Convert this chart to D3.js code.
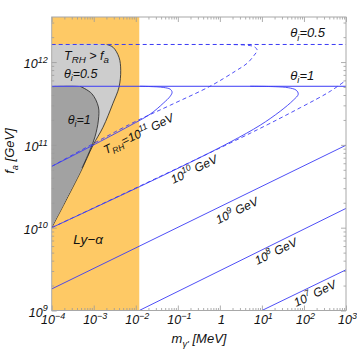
<!DOCTYPE html>
<html>
<head>
<meta charset="utf-8">
<script src="https://cdn.jsdelivr.net/npm/d3@7"></script>
<style>
  body { margin: 0; background: #fff; }
  text { font-family: "Liberation Sans", Arial, sans-serif; font-style: italic; fill: #111; }
</style>
</head>
<body>
<div id="chart"></div>
<script>
// ---- data (m in MeV, f_a in GeV) ----
const xMajor = [1e-4, 1e-3, 1e-2, 1e-1, 1, 10, 100, 1000];
const xMajorLabels = [["10", "−4"], ["10", "−3"], ["10", "−2"], ["10", "−1"], ["1", ""], ["10", "1"], ["10", "2"], ["10", "3"]];
const yMajor = [1e9, 1e10, 1e11, 1e12];
const yMajorLabels = [["10", "9"], ["10", "10"], ["10", "11"], ["10", "12"]];

const lyAlphaMax = 0.0121;
const thetaHalfLevel = 1.63e12;
const thetaOneLevel = 5.1e11;

// excluded T_RH > f_a regions
const grayHalf = [[1e-4, 1.63e12], [2.03e-3, 1.63e12], [2.87e-3, 1.51e12], [3.99e-3, 1.14e12], [4.38e-3, 7.96e11],
  [3.99e-3, 4.97e11], [2.87e-3, 3.18e11], [1.66e-3, 1.63e11], [9.6e-4, 9.9e10], [4.84e-4, 4.69e10], [1e-4, 1e10]];
const grayOne = [[1e-4, 5.1e11], [4.71e-4, 5.1e11], [8.93e-4, 4.17e11], [1.29e-3, 2.87e11], [1.29e-3, 1.99e11],
  [1.07e-3, 1.25e11], [8.15e-4, 8.63e10], [5.26e-4, 5.24e10], [1e-4, 1e10]];

// T_RH contours
const trh11Solid = [[1e-4, 5.5e10], [8.2e-4, 9.5e10], [7.3e-3, 1.71e11], [0.022, 2.35e11], [0.045, 3.18e11],
  [0.066, 3.87e11], [0.073, 4.32e11], [0.066, 4.70e11], [0.045, 4.94e11], [0.022, 5.06e11], [0.0127, 5.1e11]];
const trh11Dashed = [[1e-4, 5.5e10], [7.3e-3, 1.78e11], [0.066, 3.01e11], [0.587, 5.11e11], [2.31, 7.74e11],
  [4.47, 9.68e11], [6.56, 1.21e12], [7.73, 1.39e12], [6.56, 1.53e12], [4.23, 1.60e12], [1.34, 1.63e12]];
const trh10Solid = [[1e-4, 1e10], [0.0773, 4.88e10], [1.76, 1.08e11], [9.12, 1.73e11], [27.3, 2.55e11],
  [55.6, 3.46e11], [73.1, 4.09e11], [65.6, 4.57e11], [42.3, 4.90e11], [20.7, 5.04e11], [5.26, 5.1e11]];
const trh10Dashed = [[1e-4, 1e10], [5.26, 1.38e11], [81.6, 2.81e11], [423, 4.44e11], [1e3, 6.03e11]];
const trh9 = [[1e-4, 1.82e9], [1e3, 9.9e10]];
const trh8 = [[0.0121, 1e9], [1e3, 1.71e10]];
const trh7 = [[10, 1e9], [1e3, 3.1e9]];

// ---- layout ----
const width = 357, height = 353;
const plot = { left: 51.7, right: 346, top: 17, bottom: 310.5 };
const blue = "#3b3bf5";

const svg = d3.select("#chart").append("svg")
  .attr("width", width).attr("height", height);

const x = d3.scaleLog().domain([1e-4, 1e3]).range([plot.left, plot.right]);
const y = d3.scaleLog().domain([1e9, 3.5e12]).range([plot.bottom, plot.top]);

svg.append("clipPath").attr("id", "clip").append("rect")
  .attr("x", plot.left).attr("y", plot.top)
  .attr("width", plot.right - plot.left).attr("height", plot.bottom - plot.top);

const g = svg.append("g").attr("clip-path", "url(#clip)");

// Ly-alpha band
g.append("rect")
  .attr("x", x(1e-4)).attr("y", plot.top)
  .attr("width", x(lyAlphaMax) - x(1e-4)).attr("height", plot.bottom - plot.top)
  .attr("fill", "#fec965");

const smooth = d3.line().x(d => x(d[0])).y(d => y(d[1])).curve(d3.curveCatmullRom.alpha(0.5));
const straight = d3.line().x(d => x(d[0])).y(d => y(d[1]));

// gray regions
g.append("path").attr("d", smooth(grayHalf) + "Z").attr("fill", "#cdcdcd");
g.append("path").attr("d", smooth(grayHalf.slice(1))).attr("fill", "none").attr("stroke", "#222").attr("stroke-width", 0.8);
g.append("path").attr("d", smooth(grayOne) + "Z").attr("fill", "#a2a2a2");
g.append("path").attr("d", smooth(grayOne.slice(1, -1))).attr("fill", "none").attr("stroke", "#222").attr("stroke-width", 0.8);

// horizontal theta lines
g.append("path").attr("d", straight([[1e-4, thetaHalfLevel], [1e3, thetaHalfLevel]]))
  .attr("stroke", blue).attr("stroke-width", 1).attr("stroke-dasharray", "4,3").attr("fill", "none");
g.append("path").attr("d", straight([[1e-4, thetaOneLevel], [1e3, thetaOneLevel]]))
  .attr("stroke", blue).attr("stroke-width", 1).attr("fill", "none");

// contours
[trh11Dashed, trh10Dashed].forEach(d => {
  g.append("path").attr("d", smooth(d)).attr("fill", "none")
    .attr("stroke", blue).attr("stroke-width", 0.9).attr("stroke-dasharray", "4,3");
});
[trh11Solid, trh10Solid].forEach(d => {
  g.append("path").attr("d", smooth(d)).attr("fill", "none").attr("stroke", blue).attr("stroke-width", 0.9);
});
[trh9, trh8, trh7].forEach(d => {
  g.append("path").attr("d", straight(d)).attr("fill", "none").attr("stroke", blue).attr("stroke-width", 0.9);
});

// rich text helper: parts = [[text, "" | "sub" | "sup"]]
function rich(sel, parts, size, subScale = 0.72, subShift = 0.28) {
  let shift = 0;
  parts.forEach(([t, k]) => {
    if (!t) return;
    const target = k === "sup" ? -0.42 * size : k === "sub" ? subShift * size : 0;
    sel.append("tspan").attr("dy", target - shift)
      .attr("font-size", k ? size * subScale : size).text(t);
    shift = target;
  });
  return sel;
}

// ---- axes (ticks inward on all four sides) ----
const xMinor = x.ticks().filter(v => !xMajor.some(m => Math.abs(m - v) / m < 1e-6));
const yMinor = y.ticks().filter(v => !yMajor.some(m => Math.abs(m - v) / m < 1e-6));
const tickColor = "#9a9a9a";

function ticks(axis, values, size, transform) {
  const a = svg.append("g").attr("transform", transform)
    .call(axis.tickValues(values).tickSize(size).tickSizeOuter(0).tickFormat(""));
  a.select(".domain").remove();
  a.selectAll("line").attr("stroke", tickColor).attr("stroke-width", 0.8);
}
ticks(d3.axisBottom(x), xMajor, -5, `translate(0,${plot.bottom})`);
ticks(d3.axisBottom(x), xMinor, -2.5, `translate(0,${plot.bottom})`);
ticks(d3.axisTop(x), xMajor, -5, `translate(0,${plot.top})`);
ticks(d3.axisTop(x), xMinor, -2.5, `translate(0,${plot.top})`);
ticks(d3.axisLeft(y), yMajor, -5, `translate(${plot.left},0)`);
ticks(d3.axisLeft(y), yMinor, -2.5, `translate(${plot.left},0)`);
ticks(d3.axisRight(y), yMajor, -5, `translate(${plot.right},0)`);
ticks(d3.axisRight(y), yMinor, -2.5, `translate(${plot.right},0)`);

svg.append("rect")
  .attr("x", plot.left).attr("y", plot.top)
  .attr("width", plot.right - plot.left).attr("height", plot.bottom - plot.top)
  .attr("fill", "none").attr("stroke", "#a8a8a8").attr("stroke-width", 1);

// tick labels
xMajor.forEach((v, i) => {
  const t = svg.append("text").attr("x", x(v) + 1.5).attr("y", plot.bottom + 13.5).attr("text-anchor", "middle");
  rich(t, [[xMajorLabels[i][0], ""], [xMajorLabels[i][1], "sup"]], 12.5);
});
yMajor.forEach((v, i) => {
  const t = svg.append("text").attr("x", plot.left - 4).attr("y", y(v) + 6).attr("text-anchor", "end");
  rich(t, [[yMajorLabels[i][0], ""], [yMajorLabels[i][1], "sup"]], 12.5);
});

// axis titles
rich(svg.append("text").attr("x", 199).attr("y", 343).attr("text-anchor", "middle"),
  [["m", ""], ["γ'", "sub"], [" [MeV]", ""]], 13);
rich(svg.append("text").attr("transform", "translate(14,151) rotate(-90)").attr("text-anchor", "middle"),
  [["f", ""], ["a", "sub"], [" [GeV]", ""]], 13);

// in-plot labels
const fs = 12.5;
rich(svg.append("text").attr("x", x(1.96e-4)).attr("y", y(1.05e12)),
  [["T", ""], ["RH", "sub"], [" > ", ""], ["f", ""], ["a", "sub"]], fs, 0.78, 0.2);
rich(svg.append("text").attr("x", x(1.96e-4)).attr("y", y(6.4e11)),
  [["θ", ""], ["i", "sub"], ["=0.5", ""]], fs, 0.72, 0.2);
rich(svg.append("text").attr("x", x(2.4e-4)).attr("y", y(1.81e11)),
  [["θ", ""], ["i", "sub"], ["=1", ""]], fs);
rich(svg.append("text").attr("x", x(47.2)).attr("y", y(1.98e12)),
  [["θ", ""], ["i", "sub"], ["=0.5", ""]], 13);
rich(svg.append("text").attr("x", x(47.2)).attr("y", y(6.15e11)),
  [["θ", ""], ["i", "sub"], ["=1", ""]], 13);
rich(svg.append("text").attr("x", x(3.27e-4)).attr("y", y(6.34e9)),
  [["Ly−α", ""]], 13.5);

const rotLabels = [
  [1.96e-3, 7.73e10, [["T", ""], ["RH", "sub"], ["=10", ""], ["11", "sup"], [" GeV", ""]]],
  [0.0773, 3.36e10, [["10", ""], ["10", "sup"], [" GeV", ""]]],
  [0.912, 1.10e10, [["10", ""], ["9", "sup"], [" GeV", ""]]],
  [7.73, 3.54e9, [["10", ""], ["8", "sup"], [" GeV", ""]]],
  [65.6, 1.10e9, [["10", ""], ["7", "sup"], [" GeV", ""]]]
];
rotLabels.forEach(([m, f, parts]) => {
  rich(svg.append("text").attr("transform", `translate(${x(m)},${y(f)}) rotate(-26)`), parts, 12);
});
</script>
</body>
</html>
